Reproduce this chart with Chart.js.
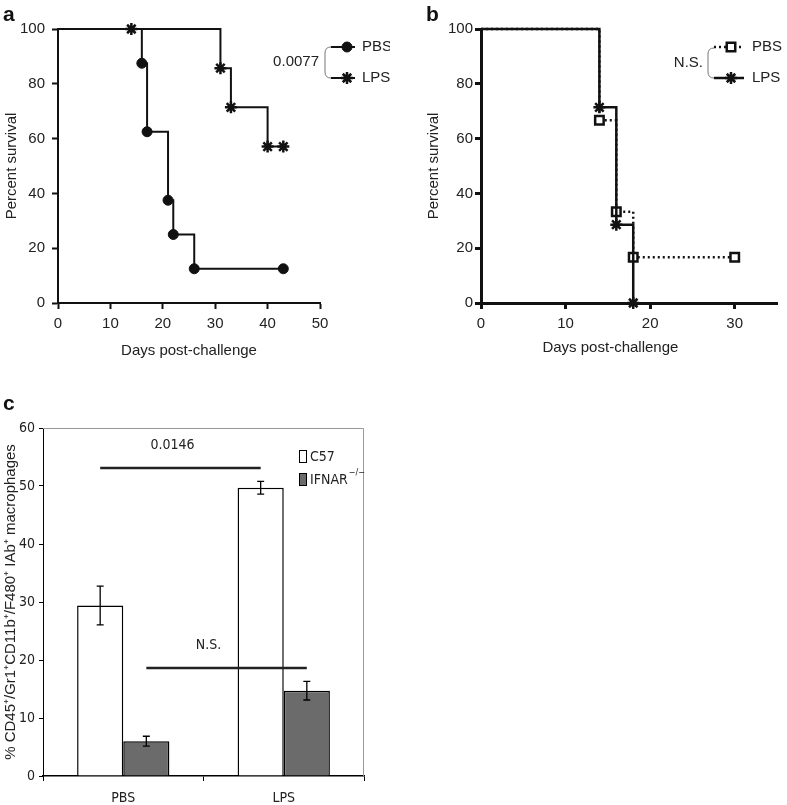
<!DOCTYPE html>
<html>
<head>
<meta charset="utf-8">
<script src="https://cdn.jsdelivr.net/npm/chart.js@4.4.1/dist/chart.umd.min.js"></script>
<style>
  body { margin: 0; background: #fff; }
  #wrap { position: relative; width: 787px; height: 805px; }
  canvas { position: absolute; }
</style>
</head>
<body>
<div id="wrap">
  <canvas id="chartA" width="390" height="360" style="left:0;top:0"></canvas>
  <canvas id="chartB" width="397" height="360" style="left:390px;top:0"></canvas>
  <canvas id="chartC" width="390" height="445" style="left:0;top:360px"></canvas>
</div>
<script>
// panel a - survival, PBS vs LPS
var aPbsDays = [0, 16, 17, 21, 22, 26, 43];
var aPbsSurv = [100, 87.5, 62.5, 37.5, 25, 12.5, 12.5];
var aLpsDays = [0, 14, 31, 33, 40, 43];
var aLpsSurv = [100, 100, 85.7, 71.4, 57.1, 57.1];

// panel b - survival, PBS vs LPS
var bPbsDays = [0, 14, 16, 18, 30];
var bPbsSurv = [100, 66.7, 33.3, 16.7, 16.7];
var bLpsDays = [0, 14, 16, 18];
var bLpsSurv = [100, 71.4, 28.6, 0];

// panel c - macrophages
var cGroups = ["PBS", "LPS"];
var cC57 = [29.4, 49.7];
var cC57Err = [3.35, 1.1];
var cIfnar = [6.0, 14.7];
var cIfnarErr = [0.85, 1.6];
var cSigLabels = ["0.0146", "N.S."];
var cSigY = [53.1, 18.6];

var survTicks = [0, 20, 40, 60, 80, 100];

var sans = "'Liberation Sans', Arial, Helvetica, sans-serif";
var narrow = "'Liberation Sans Narrow', 'DejaVu Sans Condensed', 'Arial Narrow', sans-serif";
Chart.defaults.font.family = sans;
Chart.defaults.font.size = 15;
Chart.defaults.color = "#222";

function kmData(days, surv) {
    return days.map(function(d, i) { return {x: d, y: surv[i]}; });
}

function noFirst(r) {
    return function(ctx) { return ctx.dataIndex === 0 ? 0 : r; };
}

function marker(ctx, style, r, x, y, bw, fill) {
    ctx.save();
    ctx.lineWidth = bw;
    ctx.strokeStyle = "#111";
    ctx.fillStyle = fill;
    Chart.helpers.drawPoint(ctx, {pointStyle: style, radius: r, rotation: 0, borderWidth: bw}, x, y);
    ctx.restore();
}

function bracket(ctx, x, y1, y2) {
    ctx.save();
    ctx.strokeStyle = "#777";
    ctx.lineWidth = 1;
    ctx.beginPath();
    ctx.moveTo(x + 6, y1);
    ctx.quadraticCurveTo(x, y1, x, y1 + 6);
    ctx.lineTo(x, y2 - 6);
    ctx.quadraticCurveTo(x, y2, x + 6, y2);
    ctx.stroke();
    ctx.restore();
}

function letter(ctx, t, x, y) {
    ctx.save();
    ctx.font = "bold 21px " + sans;
    ctx.fillStyle = "#111";
    ctx.textBaseline = "alphabetic";
    ctx.fillText(t, x, y);
    ctx.restore();
}

function survAxes(maxX, lw, yWidth, yTitlePad, xTitle) {
    return {
        x: {
            type: "linear", min: 0, max: maxX,
            ticks: {stepSize: 10, includeBounds: false, padding: 6, color: "#222"},
            grid: {drawOnChartArea: false, tickLength: 6, tickColor: "#111", tickWidth: lw},
            border: {color: "#111", width: lw},
            title: {display: xTitle, text: "Days post-challenge", padding: {top: 3, bottom: 0}, color: "#222"},
            afterFit: function(s) { s.height = 57; }
        },
        y: {
            min: 0, max: 100,
            afterBuildTicks: function(s) { s.ticks = survTicks.map(function(v) { return {value: v}; }); },
            ticks: {padding: lw > 2 ? 2 : 7, color: "#222"},
            grid: {drawOnChartArea: false, tickLength: 6, tickColor: "#111", tickWidth: lw},
            border: {color: "#111", width: lw},
            title: {display: true, text: "Percent survival", padding: {top: yTitlePad, bottom: 0}, color: "#222"},
            afterFit: function(s) { s.width = yWidth; }
        }
    };
}

var panelA = {
    id: "panelA",
    afterDraw: function(chart) {
        var ctx = chart.ctx;
        letter(ctx, "a", 3, 21);
        ctx.save();
        ctx.font = "15px " + sans;
        ctx.fillStyle = "#222";
        ctx.textBaseline = "middle";
        ctx.textAlign = "right";
        ctx.fillText("0.0077", 319, 62);
        ctx.textAlign = "left";
        ctx.fillText("PBS", 362, 47);
        ctx.fillText("LPS", 362, 78);
        ctx.strokeStyle = "#111";
        ctx.lineWidth = 2;
        ctx.beginPath();
        ctx.moveTo(331, 47); ctx.lineTo(355, 47);
        ctx.moveTo(331, 78); ctx.lineTo(355, 78);
        ctx.stroke();
        ctx.restore();
        bracket(ctx, 325, 47, 78);
        marker(ctx, "circle", 5, 347, 47, 1, "#111");
        marker(ctx, "star", 6, 347, 78, 2.5, "#111");
    }
};

var panelB = {
    id: "panelB",
    afterDraw: function(chart) {
        var ctx = chart.ctx;
        var xs = chart.scales.x;
        letter(ctx, "b", 36, 21);
        ctx.save();
        ctx.font = "15px " + sans;
        ctx.fillStyle = "#222";
        ctx.textBaseline = "middle";
        ctx.textAlign = "center";
        ctx.fillText("Days post-challenge", xs.getPixelForValue(15.3), 348);
        ctx.textAlign = "right";
        ctx.fillText("N.S.", 313, 63);
        ctx.textAlign = "left";
        ctx.fillText("PBS", 362, 47);
        ctx.fillText("LPS", 362, 78);
        ctx.strokeStyle = "#111";
        ctx.lineWidth = 2.5;
        ctx.setLineDash([2, 3]);
        ctx.beginPath();
        ctx.moveTo(324, 47); ctx.lineTo(354, 47);
        ctx.stroke();
        ctx.setLineDash([]);
        ctx.beginPath();
        ctx.moveTo(324, 78); ctx.lineTo(354, 78);
        ctx.stroke();
        ctx.restore();
        bracket(ctx, 318, 48, 78);
        marker(ctx, "rect", 6, 341, 47, 2.5, "#fff");
        marker(ctx, "star", 6, 341, 78, 2.5, "#111");
    }
};

var panelC = {
    id: "panelC",
    afterDatasetsDraw: function(chart) {
        var ctx = chart.ctx;
        var ys = chart.scales.y;
        var area = chart.chartArea;
        var vals = [cC57, cIfnar];
        var errs = [cC57Err, cIfnarErr];

        // frame on top and right
        ctx.save();
        ctx.strokeStyle = "#999";
        ctx.lineWidth = 1;
        ctx.beginPath();
        ctx.moveTo(area.left, area.top + 0.5);
        ctx.lineTo(area.right - 0.5, area.top + 0.5);
        ctx.lineTo(area.right - 0.5, area.bottom);
        ctx.stroke();

        // error bars
        ctx.strokeStyle = "#000";
        ctx.lineWidth = 1.3;
        for (var d = 0; d < 2; d++) {
            var meta = chart.getDatasetMeta(d);
            meta.data.forEach(function(bar, i) {
                var y1 = ys.getPixelForValue(vals[d][i] + errs[d][i]);
                var y2 = ys.getPixelForValue(vals[d][i] - errs[d][i]);
                ctx.beginPath();
                ctx.moveTo(bar.x, y1); ctx.lineTo(bar.x, y2);
                ctx.moveTo(bar.x - 3.5, y1); ctx.lineTo(bar.x + 3.5, y1);
                ctx.moveTo(bar.x - 3.5, y2); ctx.lineTo(bar.x + 3.5, y2);
                ctx.stroke();
            });
        }

        // significance lines
        var offs = [8, 18];
        ctx.font = "14px " + narrow;
        ctx.textAlign = "center";
        ctx.textBaseline = "middle";
        ctx.fillStyle = "#222";
        for (var k = 0; k < 2; k++) {
            var m = chart.getDatasetMeta(k).data;
            var y = ys.getPixelForValue(cSigY[k]);
            ctx.strokeStyle = "#222";
            ctx.lineWidth = 2.5;
            ctx.beginPath();
            ctx.moveTo(m[0].x, y); ctx.lineTo(m[1].x, y);
            ctx.stroke();
            ctx.fillText(cSigLabels[k], (m[0].x + m[1].x) / 2 - offs[k], ys.getPixelForValue(cSigY[k] + 3.9));
        }

        // legend
        ctx.lineWidth = 1;
        ctx.strokeStyle = "#000";
        ctx.fillStyle = "#fff";
        ctx.fillRect(299.5, 90.5, 7, 12);
        ctx.strokeRect(299.5, 90.5, 7, 12);
        ctx.fillStyle = "#6b6b6b";
        ctx.fillRect(299.5, 113.5, 7, 12);
        ctx.strokeRect(299.5, 113.5, 7, 12);
        ctx.fillStyle = "#222";
        ctx.textAlign = "left";
        ctx.font = "14px " + narrow;
        ctx.fillText("C57", 310, 97);
        ctx.fillText("IFNAR", 310, 120);
        var w = ctx.measureText("IFNAR").width;
        ctx.font = "9px " + narrow;
        ctx.fillText("\u2212/\u2212", 310 + w + 1, 113);
        ctx.restore();

        letter(ctx, "c", 3, 50);
    }
};

new Chart(document.getElementById("chartA"), {
    type: "line",
    data: {
        datasets: [
            {
                label: "LPS",
                data: kmData(aLpsDays, aLpsSurv),
                stepped: "before",
                borderColor: "#111",
                borderWidth: 2,
                pointStyle: "star",
                pointRadius: noFirst(6),
                pointBorderWidth: 2.5,
                pointBorderColor: "#111",
                pointBackgroundColor: "#111",
                clip: false
            },
            {
                label: "PBS",
                data: kmData(aPbsDays, aPbsSurv),
                stepped: "before",
                borderColor: "#111",
                borderWidth: 2,
                pointStyle: "circle",
                pointRadius: noFirst(5),
                pointBorderWidth: 1,
                pointBorderColor: "#111",
                pointBackgroundColor: "#111",
                clip: false
            }
        ]
    },
    options: {
        responsive: false,
        animation: false,
        layout: {padding: {top: 29, right: 70, left: 0, bottom: 0}},
        plugins: {legend: {display: false}, tooltip: {enabled: false}},
        scales: survAxes(50, 2, 58, 3, true)
    },
    plugins: [panelA]
});

new Chart(document.getElementById("chartB"), {
    type: "line",
    data: {
        datasets: [
            {
                label: "LPS",
                data: kmData(bLpsDays, bLpsSurv),
                stepped: "before",
                borderColor: "#111",
                borderWidth: 2.5,
                pointStyle: "star",
                pointRadius: noFirst(6),
                pointBorderWidth: 2.5,
                pointBorderColor: "#111",
                pointBackgroundColor: "#111",
                clip: false
            },
            {
                label: "PBS",
                data: kmData(bPbsDays, bPbsSurv),
                stepped: "before",
                borderColor: "#111",
                borderWidth: 2.5,
                borderDash: [2, 3],
                pointStyle: "rect",
                pointRadius: noFirst(6),
                pointBorderWidth: 2.5,
                pointBorderColor: "#111",
                pointBackgroundColor: "#fff",
                clip: false
            }
        ]
    },
    options: {
        responsive: false,
        animation: false,
        layout: {padding: {top: 29, right: 10, left: 0, bottom: 0}},
        plugins: {legend: {display: false}, tooltip: {enabled: false}},
        scales: survAxes(35, 3, 91, 35, false)
    },
    plugins: [panelB]
});

new Chart(document.getElementById("chartC"), {
    type: "bar",
    data: {
        labels: cGroups,
        datasets: [
            {
                label: "C57",
                data: cC57,
                backgroundColor: "#fff",
                borderColor: "#000",
                borderWidth: 1.5,
                categoryPercentage: 0.575,
                barPercentage: 1
            },
            {
                label: "IFNAR-/-",
                data: cIfnar,
                backgroundColor: "#6b6b6b",
                borderColor: "#000",
                borderWidth: 1.5,
                categoryPercentage: 0.575,
                barPercentage: 1
            }
        ]
    },
    options: {
        responsive: false,
        animation: false,
        layout: {padding: {top: 68, right: 26, left: 0, bottom: 0}},
        plugins: {legend: {display: false}, tooltip: {enabled: false}},
        scales: {
            x: {
                ticks: {padding: 9, color: "#222", font: {family: narrow, size: 14}},
                grid: {drawOnChartArea: false, offset: true, tickLength: 5, tickColor: "#000", tickWidth: 1},
                border: {color: "#000", width: 1.5},
                afterFit: function(s) { s.height = 29; }
            },
            y: {
                min: 0, max: 60,
                ticks: {stepSize: 10, padding: 4, color: "#222", font: {family: narrow, size: 14}},
                grid: {drawOnChartArea: false, tickLength: 4, tickColor: "#000", tickWidth: 1},
                border: {color: "#000", width: 1},
                title: {
                    display: true,
                    text: "% CD45\u207A/Gr1\u207ACD11b\u207A/F480\u207A IAb\u207A macrophages",
                    padding: {top: 2, bottom: 0},
                    color: "#222",
                    font: {size: 15}
                },
                afterFit: function(s) { s.width = 43; }
            }
        }
    },
    plugins: [panelC]
});
</script>
</body>
</html>
